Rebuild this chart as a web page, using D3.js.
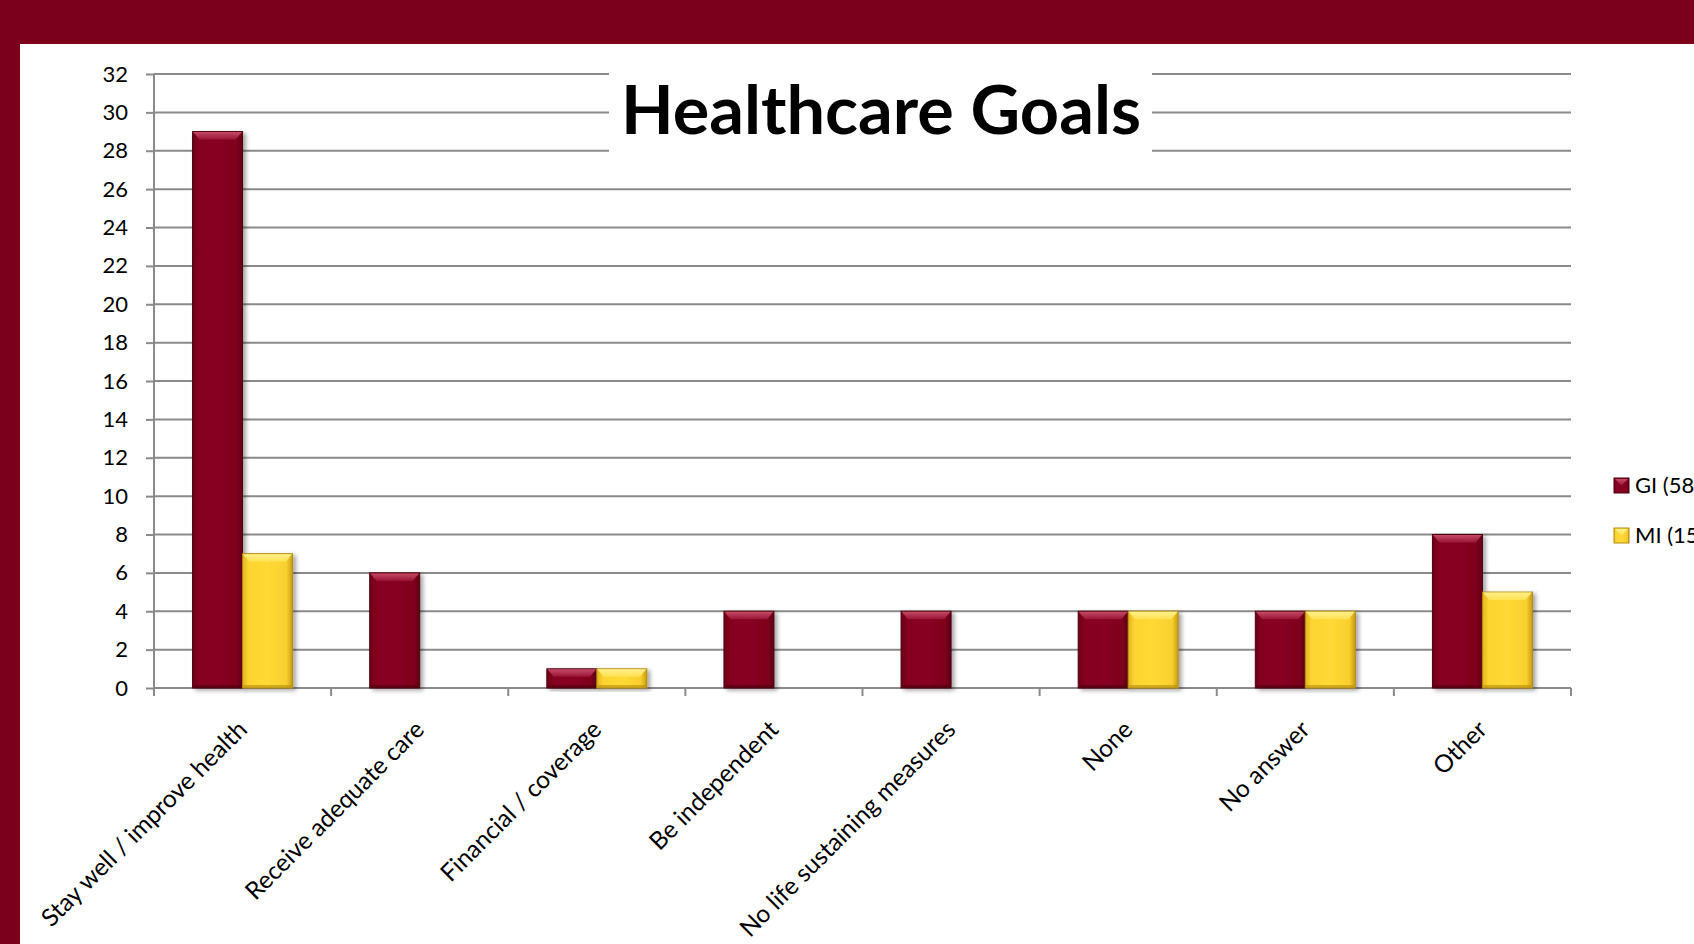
<!DOCTYPE html>
<html>
<head>
<meta charset="utf-8">
<script src="https://cdn.jsdelivr.net/npm/d3@7"></script>
<style>
  html, body { margin: 0; padding: 0; background: #7b001b; overflow: hidden; }
  svg { display: block; }
</style>
</head>
<body>
<svg id="chart" width="1694" height="944"></svg>
<script>
// Survey responses: healthcare goals by group
const categories = [
  "Stay well / improve health",
  "Receive adequate care",
  "Financial / coverage",
  "Be independent",
  "No life sustaining measures",
  "None",
  "No answer",
  "Other"
];
const seriesNames = ["GI (58)", "MI (15)"];
const giValues = [29, 6, 1, 4, 4, 4, 4, 8];
const miValues = [7, 0, 1, 0, 0, 4, 4, 5];
const yTicks = d3.range(0, 33, 2);
const titleText = "Healthcare Goals";

const svg = d3.select("#chart");
const W = 1694, H = 944;

// page frame: maroon band along the top and left, white panel
svg.append("rect").attr("width", W).attr("height", H).attr("fill", "#7b001b");
svg.append("rect").attr("x", 20).attr("y", 44).attr("width", W - 20).attr("height", H - 44).attr("fill", "#ffffff");

const defs = svg.append("defs");
const shadow = defs.append("filter").attr("id", "shadow")
  .attr("x", "-20%").attr("y", "-10%").attr("width", "150%").attr("height", "130%");
shadow.append("feDropShadow").attr("dx", 3).attr("dy", 2).attr("stdDeviation", 2.2)
  .attr("flood-color", "#000").attr("flood-opacity", 0.35);

function hGrad(id, stops) {
  const g = defs.append("linearGradient").attr("id", id).attr("x1", 0).attr("x2", 1).attr("y1", 0).attr("y2", 0);
  stops.forEach(s => g.append("stop").attr("offset", s[0]).attr("stop-color", s[1]));
}
function vGrad(id, stops) {
  const g = defs.append("linearGradient").attr("id", id).attr("x1", 0).attr("x2", 0).attr("y1", 0).attr("y2", 1);
  stops.forEach(s => g.append("stop").attr("offset", s[0]).attr("stop-color", s[1]));
}
hGrad("gBody0", [[0, "#6a0016"], [0.12, "#84001f"], [0.5, "#880022"], [0.88, "#7e001d"], [1, "#5e0012"]]);
hGrad("gBody1", [[0, "#e0b320"], [0.12, "#fdd431"], [0.5, "#ffd935"], [0.88, "#f8cf2e"], [1, "#c79c12"]]);
vGrad("gTop0", [[0, "#c44a66"], [1, "#9a1536"]]);
vGrad("gTop1", [[0, "#fff08a"], [1, "#ffe050"]]);

const bodyFill = ["url(#gBody0)", "url(#gBody1)"];
const topFill = ["url(#gTop0)", "url(#gTop1)"];
const edgeColor = ["#4e000f", "#b58c10"];

const plotLeft = 154, plotRight = 1571, plotTop = 74, plotBottom = 688;

const y = d3.scaleLinear().domain([0, 32]).range([plotBottom, plotTop]);
const pad = 0.4355;
const x0 = d3.scaleBand().domain(categories).range([plotLeft, plotRight])
  .paddingInner(pad).paddingOuter(pad / 2);
const x1 = d3.scaleBand().domain(seriesNames).range([0, x0.bandwidth()]);

// horizontal gridlines
svg.append("g").selectAll("line").data(yTicks).join("line")
  .attr("x1", plotLeft).attr("x2", plotRight)
  .attr("y1", d => y(d)).attr("y2", d => y(d))
  .attr("stroke", "#8a8a8a").attr("stroke-width", 2);

// y axis with outward ticks
const yAxis = svg.append("g").attr("transform", `translate(${plotLeft},0)`)
  .call(d3.axisLeft(y).tickValues(yTicks).tickSize(8).tickPadding(18).tickFormat(d3.format("d")));
yAxis.select(".domain").attr("stroke", "#8a8a8a").attr("stroke-width", 2)
  .attr("d", `M0,${plotTop}V${plotBottom}`);
yAxis.selectAll(".tick line").attr("stroke", "#8a8a8a").attr("stroke-width", 2);
yAxis.selectAll(".tick text").attr("font-family", "Lato, 'Open Sans', sans-serif")
  .attr("font-size", 22).attr("fill", "#000");

// category boundary ticks below the baseline
const boundaries = categories.map(c => x0(c) - x0.step() * pad / 2).concat([plotRight]);
svg.append("g").selectAll("line").data(boundaries).join("line")
  .attr("x1", d => d).attr("x2", d => d)
  .attr("y1", plotBottom).attr("y2", plotBottom + 8)
  .attr("stroke", "#8a8a8a").attr("stroke-width", 2);

// title with a white plate that interrupts the gridlines
svg.append("rect").attr("x", 609).attr("y", 58).attr("width", 543).attr("height", 106).attr("fill", "#fff");
svg.append("text").attr("x", 881).attr("y", 134).attr("text-anchor", "middle")
  .attr("font-family", "Lato, 'Open Sans', sans-serif").attr("font-weight", 700)
  .attr("font-size", 66).attr("textLength", 520).attr("lengthAdjust", "spacingAndGlyphs")
  .attr("fill", "#000").text(titleText);

// bars
const rows = categories.map((c, i) => ({ cat: c, vals: [giValues[i], miValues[i]] }));
const groups = svg.append("g").selectAll("g").data(rows).join("g")
  .attr("transform", d => `translate(${x0(d.cat)},0)`);

const bars = groups.selectAll("g").data(d => d.vals.map((v, k) => ({ v, k })).filter(e => e.v > 0))
  .join("g")
  .attr("filter", "url(#shadow)");

bars.append("rect")
  .attr("x", d => x1(seriesNames[d.k]))
  .attr("y", d => y(d.v))
  .attr("width", x1.bandwidth())
  .attr("height", d => y(0) - y(d.v))
  .attr("fill", d => bodyFill[d.k])
  .attr("stroke", d => edgeColor[d.k]).attr("stroke-width", 1);

// top bevel
bars.append("path")
  .attr("d", d => {
    const xl = x1(seriesNames[d.k]), xr = xl + x1.bandwidth(), yt = y(d.v);
    const h = Math.min(8, (y(0) - yt) / 2), inset = 7;
    return `M${xl + 0.5},${yt + 0.5}L${xr - 0.5},${yt + 0.5}L${xr - inset},${yt + h}L${xl + inset},${yt + h}Z`;
  })
  .attr("fill", d => topFill[d.k]);

// bottom darker edge
bars.append("rect")
  .attr("x", d => x1(seriesNames[d.k]) + 1)
  .attr("y", y(0) - 3)
  .attr("width", x1.bandwidth() - 2)
  .attr("height", 3)
  .attr("fill", d => edgeColor[d.k]).attr("opacity", 0.6);

// category labels, rotated
svg.append("g").selectAll("text").data(categories).join("text")
  .attr("transform", d => `translate(${x0(d) + x0.bandwidth() / 2 + 6},${plotBottom + 43}) rotate(-45)`)
  .attr("text-anchor", "end")
  .attr("font-family", "Lato, 'Open Sans', sans-serif")
  .attr("font-size", 24.5).attr("fill", "#000")
  .text(d => d);

// legend
const legend = svg.append("g").selectAll("g").data(seriesNames).join("g")
  .attr("transform", (d, i) => `translate(1614,${478 + i * 50})`);
legend.append("rect").attr("width", 15).attr("height", 15)
  .attr("fill", (d, i) => bodyFill[i]).attr("stroke", (d, i) => edgeColor[i]).attr("stroke-width", 1);
legend.append("path").attr("d", "M1,1L14,1L7.5,7.5Z").attr("fill", (d, i) => topFill[i]);
legend.append("text").attr("x", 21).attr("y", 15)
  .attr("font-family", "Lato, 'Open Sans', sans-serif").attr("font-size", 22).attr("fill", "#000")
  .text(d => d);
</script>
</body>
</html>
